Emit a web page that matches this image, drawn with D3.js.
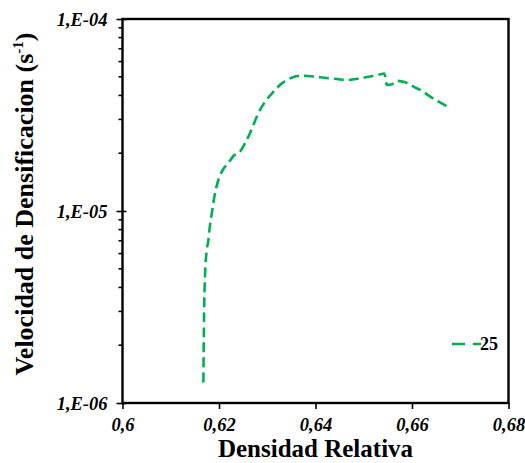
<!DOCTYPE html>
<html><head><meta charset="utf-8">
<script src="https://cdn.jsdelivr.net/npm/d3@7/dist/d3.min.js"></script>
<style>body{margin:0;background:#fff}svg{display:block}</style>
</head><body>
<script>
const xVals = [0.61676,0.61691,0.61712,0.61747,0.61780,0.61801,0.61851,0.61919,0.62008,0.62091,0.62195,0.62299,0.62438,0.62541,0.62645,0.62817,0.62956,0.63129,0.63303,0.63475,0.63683,0.63849,0.64097,0.64444,0.64651,0.64927,0.65203,0.65378,0.65425,0.65481,0.65585,0.65689,0.65861,0.66033,0.66207,0.66380,0.66552,0.66712];
const yVals = [1.28e-6,2.94e-6,4.75e-6,6.26e-6,7.06e-6,7.96e-6,9.77e-6,1.241e-5,1.503e-5,1.655e-5,1.778e-5,1.934e-5,2.037e-5,2.26e-5,2.55e-5,3.24e-5,3.71e-5,4.18e-5,4.62e-5,4.91e-5,5.07e-5,5.05e-5,4.97e-5,4.87e-5,4.81e-5,4.91e-5,5.07e-5,5.17e-5,5.2e-5,4.53e-5,4.57e-5,4.76e-5,4.68e-5,4.44e-5,4.22e-5,3.94e-5,3.71e-5,3.52e-5];
const xTicks = [0.6,0.62,0.64,0.66,0.68];
const xTickLabels = ["0,6","0,62","0,64","0,66","0,68"];
const yTicks = [1e-6,1e-5,1e-4];
const yTickLabels = ["1,E-06","1,E-05","1,E-04"];
const seriesName = "25";

const FONT='"Liberation Serif","Times New Roman",serif';
const W=525,H=463;
const L=122.5,R=508.5,T=19,B=403;
const svg=d3.select("body").append("svg").attr("width",W).attr("height",H);
const x=d3.scaleLinear().domain([0.6,0.68]).range([L,R]);
const y=d3.scaleLog().domain([1e-6,1e-4]).range([B,T]);

const minors=[];
for(let d=-6;d<-4;d++){for(let m=2;m<=9;m++)minors.push(m*Math.pow(10,d));}
svg.append("g").selectAll("line").data(minors).join("line")
  .attr("x1",L-4).attr("x2",L).attr("y1",d=>y(d)).attr("y2",d=>y(d))
  .attr("stroke","#000").attr("stroke-width",1.6);

svg.append("rect").attr("x",L).attr("y",T).attr("width",R-L).attr("height",B-T)
  .attr("fill","none").attr("stroke","#000").attr("stroke-width",2.4);

const yAxis=svg.append("g").attr("transform",`translate(${L},0)`)
  .call(d3.axisLeft(y).tickValues(yTicks).tickFormat((d,i)=>yTickLabels[i]).tickSize(6).tickSizeOuter(0));
yAxis.attr("font-family",null);
yAxis.select(".domain").remove();
yAxis.selectAll(".tick line").attr("x2",-6).attr("x1",4).attr("stroke-width",1.6);
yAxis.selectAll("text").attr("x",-15).attr("dy","0.35em")
  .style("font-family",FONT).style("font-size","18.5px").style("font-weight","bold").style("font-style","italic").attr("fill","#000");

const xAxis=svg.append("g").attr("transform",`translate(0,${B})`)
  .call(d3.axisBottom(x).tickValues(xTicks).tickFormat((d,i)=>xTickLabels[i]).tickSize(6).tickSizeOuter(0));
xAxis.attr("font-family",null);
xAxis.select(".domain").remove();
xAxis.selectAll(".tick line").attr("stroke-width",1.6);
xAxis.selectAll("text").attr("y",15).attr("dy","0.71em")
  .style("font-family",FONT).style("font-size","18.5px").style("font-weight","bold").style("font-style","italic").attr("fill","#000");

const data=xVals.map((v,i)=>[v,yVals[i]]);
svg.append("path").datum(data)
  .attr("d",d3.line().x(d=>x(d[0])).y(d=>y(d[1])).curve(d3.curveMonotoneX))
  .attr("fill","none").attr("stroke","#00B050").attr("stroke-width",2.6)
  .attr("stroke-dasharray","10,5");

svg.append("line").attr("x1",452).attr("x2",481).attr("y1",344).attr("y2",344)
  .attr("stroke","#00B050").attr("stroke-width",2.6).attr("stroke-dasharray","13,8");
svg.append("text").attr("x",480).attr("y",350).text(seriesName)
  .style("font-family",FONT).style("font-size","18px").style("font-weight","bold");

svg.append("text").attr("x",(L+R)/2).attr("y",457).attr("text-anchor","middle")
  .style("font-family",FONT).style("font-size","25px").style("font-weight","bold").text("Densidad Relativa");
const yt=svg.append("text").attr("transform","translate(33,204) rotate(-90)").attr("text-anchor","middle")
  .style("font-family",FONT).style("font-size","26px").style("font-weight","bold");
yt.append("tspan").text("Velocidad de Densificacion (s");
yt.append("tspan").attr("dy",-10).style("font-size","15px").text("-1");
yt.append("tspan").attr("dy",10).text(")");
</script>
</body></html>
